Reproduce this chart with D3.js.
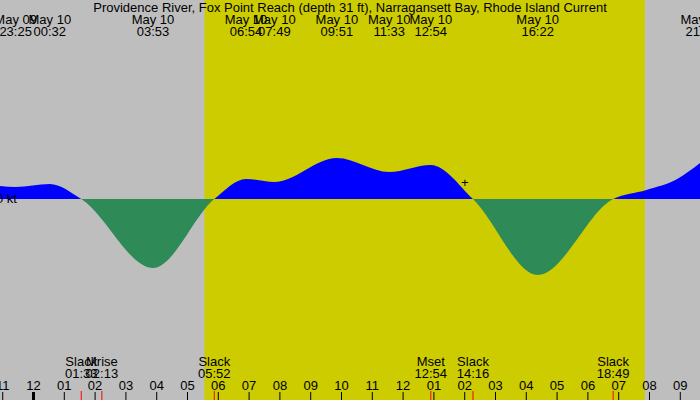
<!DOCTYPE html>
<html><head><meta charset="utf-8">
<script src="https://cdn.jsdelivr.net/npm/d3@7"></script>
<style>body{margin:0;background:#fff}text{font-family:"Liberation Sans",Arial,sans-serif;font-size:13px}</style>
</head><body><div id="chart"></div>
<script>
// hours since midnight May 10, current in knots
var curveHours = [-1.09, -0.58, 0.53, 1.55, 3.88, 5.87, 6.9, 7.82, 9.85, 11.55, 12.9, 14.27, 16.37, 18.82, 19.9, 20.9, 21.64];
var curveKnots = [0.13, 0.12, 0.15, 0, -0.69, 0, 0.2, 0.17, 0.41, 0.27, 0.34, 0, -0.76, 0, 0.09, 0.2, 0.36];

var topDates = ['May 09', 'May 10', 'May 10', 'May 10', 'May 10', 'May 10', 'May 10', 'May 10', 'May 10', 'May 10'];
var topTimes = ['23:25', '00:32', '03:53', '06:54', '07:49', '09:51', '11:33', '12:54', '16:22', '21:42'];
var topHours = [-0.58, 0.53, 3.88, 6.9, 7.82, 9.85, 11.55, 12.9, 16.37, 21.7];

var eventNames = ['Slack', 'Mrise', 'Slack', 'Mset', 'Slack', 'Slack'];
var eventTimes = ['01:33', '02:13', '05:52', '12:54', '14:16', '18:49'];
var eventHours = [1.55, 2.22, 5.87, 12.9, 14.27, 18.82];

var hourLabels = ['11', '12', '01', '02', '03', '04', '05', '06', '07', '08', '09', '10', '11', '12', '01', '02', '03', '04', '05', '06', '07', '08', '09'];
var hourTicks = d3.range(-1, 22);

var sunrise = 5.55, sunset = 19.85;

var width = 700, height = 400;
var x = d3.scaleLinear().domain([-1.088, 21.64]).range([0, width]);
var y = d3.scaleLinear().domain([0, 1]).range([199, 99]);

var svg = d3.select('#chart').append('svg')
	.attr('width', width)
	.attr('height', height);

svg.append('rect').attr('width', width).attr('height', height).attr('fill', '#bebebe');
svg.append('rect')
	.attr('x', x(sunrise)).attr('y', 0)
	.attr('width', x(sunset) - x(sunrise)).attr('height', height)
	.attr('fill', '#cccc00');

var pts = curveHours.map(function(h, i) { return [h, curveKnots[i]]; });
var area = d3.area()
	.x(function(d) { return x(d[0]); })
	.y0(y(0))
	.y1(function(d) { return y(d[1]); })
	.curve(d3.curveMonotoneX);

var defs = svg.append('defs');
defs.append('clipPath').attr('id', 'above')
	.append('rect').attr('x', 0).attr('y', 0).attr('width', width).attr('height', y(0));
defs.append('clipPath').attr('id', 'below')
	.append('rect').attr('x', 0).attr('y', y(0)).attr('width', width).attr('height', height);

svg.append('path').datum(pts).attr('d', area).attr('fill', '#0000ff').attr('clip-path', 'url(#above)');
svg.append('path').datum(pts).attr('d', area).attr('fill', '#2e8b57').attr('clip-path', 'url(#below)');

svg.append('text').attr('x', -4).attr('y', y(0) + 4).text('0 kt');
svg.append('text').attr('x', x(14.0)).attr('y', 187).attr('text-anchor', 'middle').text('+');

svg.append('text').attr('x', 350).attr('y', 12).attr('text-anchor', 'middle')
	.text('Providence River, Fox Point Reach (depth 31 ft), Narragansett Bay, Rhode Island Current');

var topLabels = svg.append('g').selectAll('g').data(topHours).enter().append('g');
topLabels.append('text').attr('x', function(d) { return x(d); }).attr('y', 24).attr('text-anchor', 'middle')
	.text(function(d, i) { return topDates[i]; });
topLabels.append('text').attr('x', function(d) { return x(d); }).attr('y', 36).attr('text-anchor', 'middle')
	.text(function(d, i) { return topTimes[i]; });

var ev = svg.append('g').selectAll('g').data(eventHours).enter().append('g');
ev.append('text').attr('x', function(d) { return x(d); }).attr('y', 366).attr('text-anchor', 'middle')
	.text(function(d, i) { return eventNames[i]; });
ev.append('text').attr('x', function(d) { return x(d); }).attr('y', 378).attr('text-anchor', 'middle')
	.text(function(d, i) { return eventTimes[i]; });
ev.append('line')
	.attr('x1', function(d) { return x(d); }).attr('x2', function(d) { return x(d); })
	.attr('y1', 391).attr('y2', 400).attr('stroke', 'red');

var ax = svg.append('g');
ax.selectAll('text').data(hourTicks).enter().append('text')
	.attr('x', function(d) { return x(d); }).attr('y', 390).attr('text-anchor', 'middle')
	.text(function(d, i) { return hourLabels[i]; });
ax.selectAll('line').data(hourTicks).enter().append('line')
	.attr('x1', function(d) { return x(d); }).attr('x2', function(d) { return x(d); })
	.attr('y1', 392).attr('y2', 400)
	.attr('stroke', 'black')
	.attr('stroke-width', function(d) { return d === 0 ? 3 : 1; });
</script></body></html>
